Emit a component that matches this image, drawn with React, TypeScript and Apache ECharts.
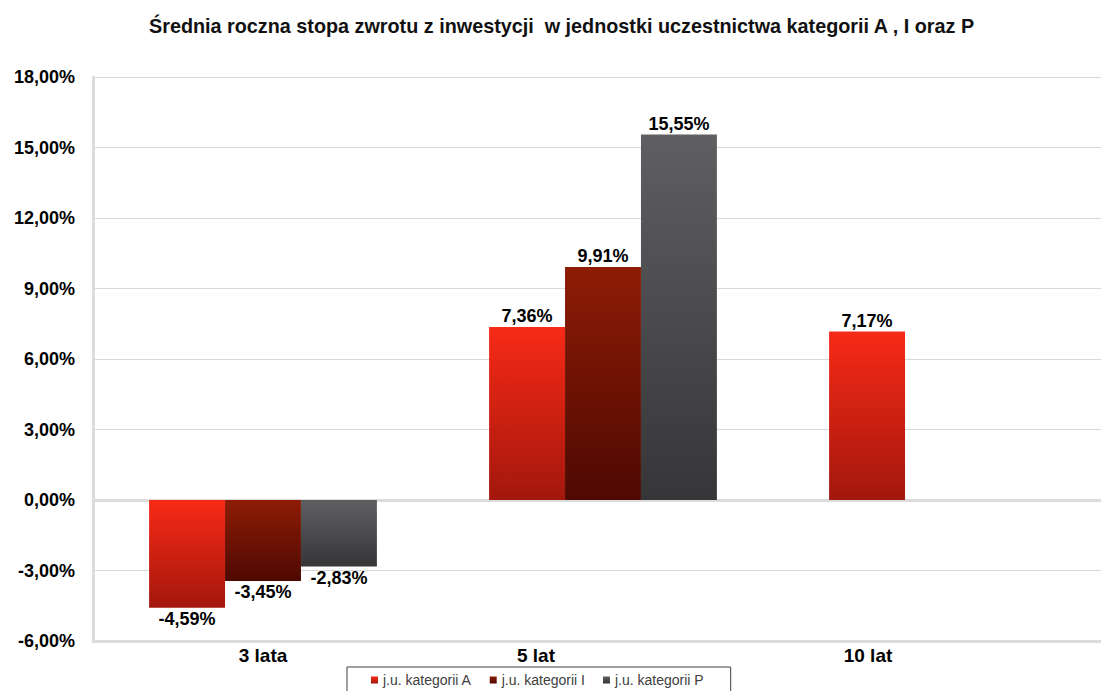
import React, { useEffect, useRef } from "react";
import * as echarts from "echarts";

const titleText =
  "Średnia roczna stopa zwrotu z inwestycji  w jednostki uczestnictwa kategorii A , I oraz P";
const categories = ["3 lata", "5 lat", "10 lat"];
const seriesNames = ["j.u. kategorii A", "j.u. kategorii I", "j.u. kategorii P"];
const valuesA = [-4.59, 7.36, 7.17];
const valuesI = [-3.45, 9.91, null];
const valuesP = [-2.83, 15.55, null];
const yTicks = [-6, -3, 0, 3, 6, 9, 12, 15, 18];

const gradients = [
  ["#f72a17", "#a3170c"],
  ["#8e1c06", "#4e0902"],
  ["#5f5f62", "#363638"],
];

const fmt = (v: number) => v.toFixed(2).replace(".", ",") + "%";
const FONT = "Arial, Liberation Sans";

export default function App() {
  const ref = useRef<HTMLDivElement>(null);
  useEffect(() => {
    if (!ref.current) return;
    const chart = echarts.init(ref.current, undefined, { renderer: "svg" });
    const all = [valuesA, valuesI, valuesP];
    const grad = (c: string[]) =>
      new echarts.graphic.LinearGradient(0, 0, 0, 1, [
        { offset: 0, color: c[0] },
        { offset: 1, color: c[1] },
      ]);
    const series = all.map((vals, si) => ({
      name: seriesNames[si],
      type: "bar",
      barGap: "0%",
      barCategoryGap: "33%",
      itemStyle: { color: grad(gradients[si]) },
      data: vals.map((v) =>
        v === null
          ? null
          : {
              value: v,
              label: { position: v < 0 ? "bottom" : "top" },
            }
      ),
      label: {
        show: true,
        distance: 2,
        formatter: (p: any) => fmt(p.value),
        fontFamily: FONT,
        fontWeight: "bold",
        fontSize: 18,
        color: "#000",
      },
    }));
    const borderLine = { show: true, lineStyle: { color: "#dcdcdc", width: 3 } };
    chart.setOption({
      animation: false,
      backgroundColor: "#fff",
      title: {
        text: titleText,
        left: 144,
        top: 11,
        textStyle: {
          fontFamily: FONT,
          fontWeight: "bold",
          fontSize: 19.8,
          color: "#111",
        },
      },
      legend: {
        left: 347,
        top: 667,
        itemWidth: 7,
        itemHeight: 7,
        itemGap: 18,
        icon: "rect",
        padding: [6, 27, 10, 24],
        borderColor: "#404040",
        borderWidth: 1,
        data: seriesNames,
        textStyle: {
          fontFamily: FONT,
          fontSize: 14,
          color: "#404040",
        },
      },
      grid: {
        left: 93,
        width: 1020,
        top: 77,
        bottom: 50,
        show: false,
        containLabel: false,
        outerBoundsMode: "none",
      },
      xAxis: [
        {
          type: "category",
          data: categories,
          axisLine: { ...borderLine, onZero: false },
          axisTick: { show: false },
          axisLabel: {
            margin: 5,
            formatter: (v: string, i: number) => `{c${i}|${v}}`,
            rich: {
              c0: { fontFamily: FONT, fontWeight: "bold", fontSize: 19, color: "#000" },
              c1: { fontFamily: FONT, fontWeight: "bold", fontSize: 19, color: "#000", padding: [0, 134, 0, 0] },
              c2: { fontFamily: FONT, fontWeight: "bold", fontSize: 19, color: "#000", padding: [0, 150, 0, 0] },
            },
          },
        },
        {
          type: "category",
          position: "top",
          data: categories,
          axisLine: borderLine,
          axisTick: { show: false },
          axisLabel: { show: false },
        },
      ],
      yAxis: {
        type: "value",
        min: yTicks[0],
        max: yTicks[yTicks.length - 1],
        interval: 3,
        axisLine: borderLine,
        axisTick: { show: false },
        splitLine: { lineStyle: { color: "#d9d9d9", width: 1 } },
        axisLabel: {
          margin: 18,
          formatter: (v: number) => fmt(v),
          fontFamily: FONT,
          fontWeight: "bold",
          fontSize: 18,
          color: "#000",
        },
      },
      series,
    });
    return () => chart.dispose();
  }, []);
  return (
    <div
      ref={ref}
      style={{ position: "fixed", left: 0, top: 0, width: 1101, height: 691 }}
    />
  );
}
